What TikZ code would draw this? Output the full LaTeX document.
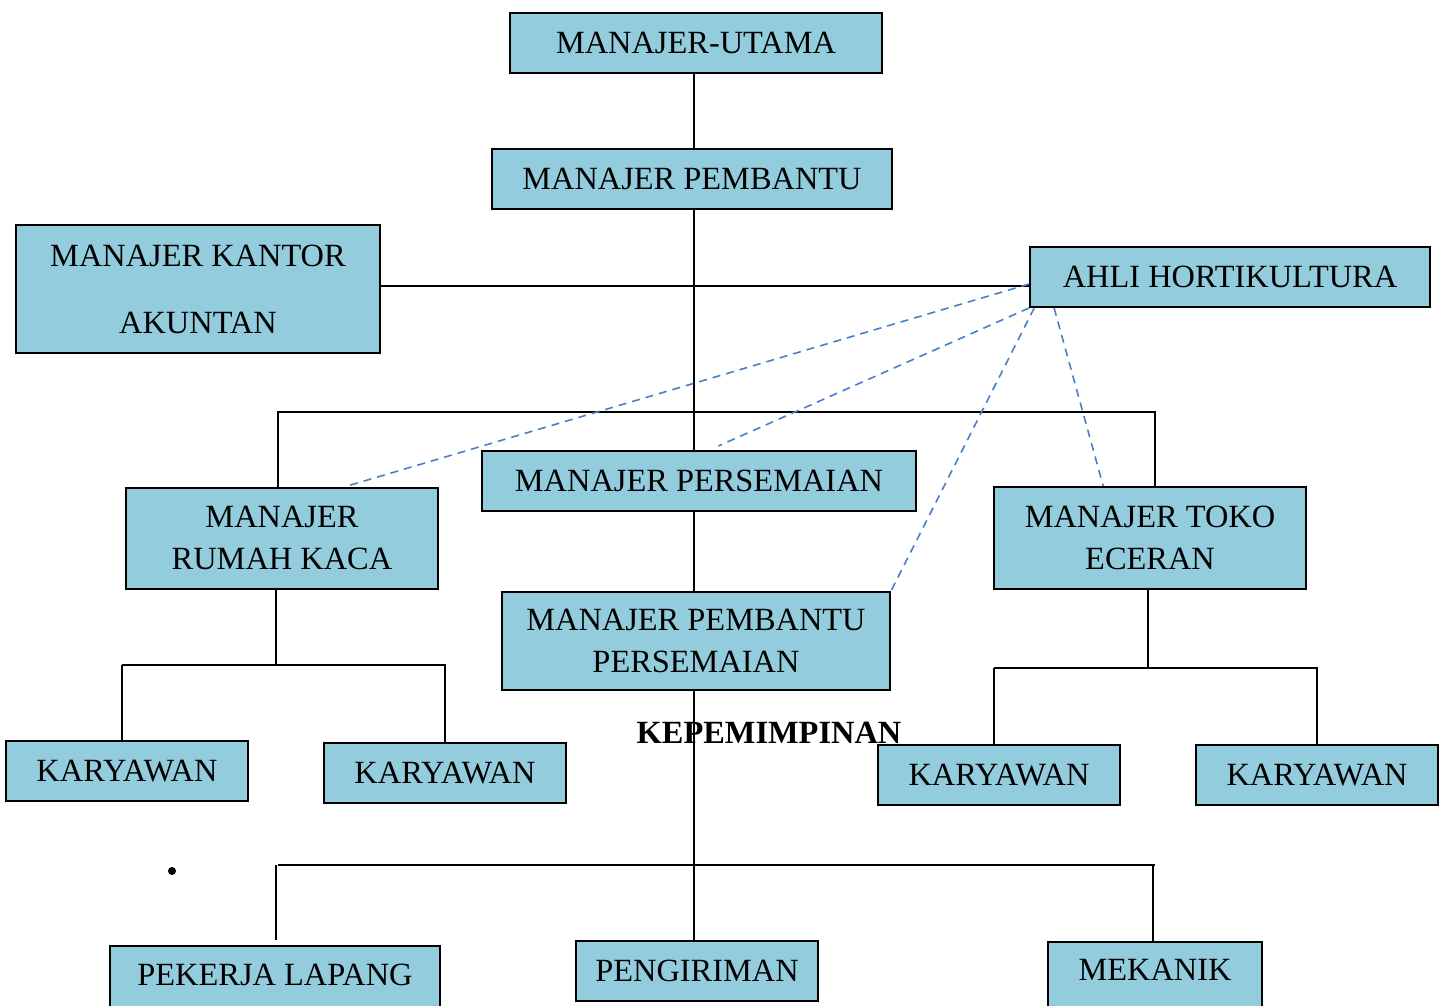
\documentclass[tikz,border=0pt]{standalone}
\usepackage{fontspec}
\setmainfont{Liberation Serif}
\definecolor{boxblue}{RGB}{147,205,221}
\definecolor{hortblue}{RGB}{74,126,200}
\tikzset{
  box/.style={draw, fill=boxblue, line width=1pt, inner sep=0pt, align=center,
    font=\fontsize{16.2}{21}\selectfont},
  link/.style={line width=0.8pt},
  hort/.style={hortblue, line width=0.8pt, dash pattern=on 4pt off 3pt}
}
\begin{document}
  \begin{tikzpicture}[x=0.5pt,y=-0.5pt]
    \useasboundingbox (0,0) rectangle (1443,1005);
    % boxes
    \node[box,minimum width=186pt,minimum height=30pt] (mu) at (696,43) {MANAJER-UTAMA};
    \node[box,minimum width=200pt,minimum height=30pt] (mp) at (692,179) {MANAJER PEMBANTU};
    \node[box,minimum width=182pt,minimum height=64pt] (mka) at (198,289) {MANAJER KANTOR\\[12.5pt]AKUNTAN};
    \node[box,minimum width=200pt,minimum height=30pt] (ah) at (1230,277) {AHLI HORTIKULTURA};
    \node[box,minimum width=217pt,minimum height=30pt] (mps) at (699,481) {MANAJER PERSEMAIAN};
    \node[box,minimum width=156pt,minimum height=50.5pt] (mrk) at (282,538) {MANAJER\\RUMAH KACA};
    \node[box,minimum width=156pt,minimum height=51pt] (mte) at (1150,538) {MANAJER TOKO\\ECERAN};
    \node[box,minimum width=194pt,minimum height=49pt] (mpp) at (696,641) {MANAJER PEMBANTU\\PERSEMAIAN};
    \node[box,minimum width=121pt,minimum height=30pt] (k1) at (127,771) {KARYAWAN};
    \node[box,minimum width=121pt,minimum height=30pt] (k2) at (445,773) {KARYAWAN};
    \node[box,minimum width=121pt,minimum height=30pt] (k3) at (999,775) {KARYAWAN};
    \node[box,minimum width=121pt,minimum height=30pt] (k4) at (1317,775) {KARYAWAN};
    \node[box,minimum width=165pt,minimum height=32pt,text height=11pt,text depth=3.3pt] (pl) at (275,978) {PEKERJA LAPANG};
    \node[box,minimum width=121pt,minimum height=30pt] (pg) at (697,971) {PENGIRIMAN};
    \node[box,minimum width=107pt,minimum height=34pt,text height=11pt,text depth=6.3pt] (mk) at (1155,976) {MEKANIK};
    \node[font=\fontsize{16.2}{18}\selectfont\bfseries] (kep) at (769,733) {KEPEMIMPINAN};
    \node[circle,fill,inner sep=0pt,minimum size=4pt] (dot) at (172,871) {};

    % trunk
    \coordinate (jct) at (694,286);
    \coordinate (busL) at (278,412);
    \coordinate (busR) at (1155,412);
    \draw[link] (mu.south -| jct) -- (mp.north -| jct);
    \draw[link] (mp.south -| jct) -- (mps.north -| jct);
    \draw[link] (mka.east |- jct) -- (ah.west |- jct);
    \draw[link] (mrk.north -| busL) -- (busL) -- (busR) -- (mte.north -| busR);
    \draw[link] (mps.south -| jct) -- (mpp.north -| jct);
    \draw[link] (mpp.south -| jct) -- (pg.north -| jct);

    % rumah kaca
    \coordinate (rkT) at (276,665);
    \coordinate (rkL) at (122,665);
    \coordinate (rkR) at (446,665);
    \draw[link] (mrk.south -| rkT) -- (rkT);
    \draw[link] (rkL) -- (rkR);
    \draw[link] (rkL) -- (k1.north -| rkL);
    \draw[link] (k2.north |- rkR) -- (k2.north);

    % toko eceran
    \coordinate (teT) at (1148,668);
    \coordinate (teL) at (994,668);
    \coordinate (teR) at (1318,668);
    \draw[link] (mte.south -| teT) -- (teT);
    \draw[link] (teL) -- (teR);
    \draw[link] (teL) -- (k3.north -| teL);
    \draw[link] (k4.north |- teR) -- (k4.north);

    % bawah
    \coordinate (bbL) at (278,865);
    \coordinate (bbR) at (1155,865);
    \coordinate (plT) at (276,940);
    \coordinate (mkT) at (1153,942);
    \draw[link] (bbL) -- (bbR);
    \draw[link] (plT |- bbL) -- (plT);
    \draw[link] (mkT |- bbR) -- (mkT);

    % ahli hortikultura
    \draw[hort] (ah.182) -- (mrk.39);
    \draw[hort] (ah.south west) -- ([yshift=2pt]mps.58);
    \draw[hort] (ah.189) -- (mpp.north east);
    \draw[hort] (ah.190) -- (mte.132);
  \end{tikzpicture}
\end{document}
